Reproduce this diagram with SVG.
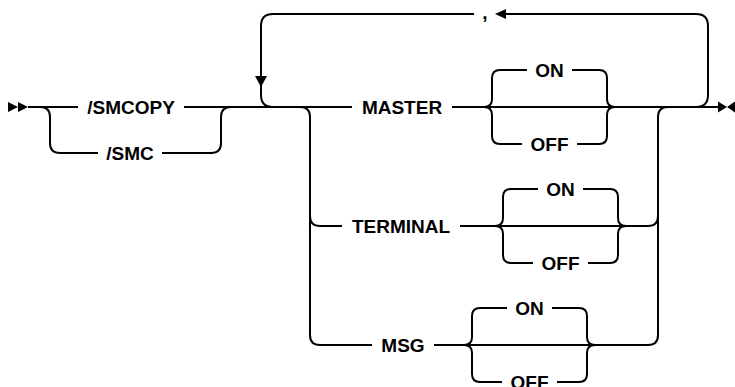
<svg xmlns="http://www.w3.org/2000/svg" width="735" height="387" viewBox="0 0 735 387">
<style>
.c{fill:none;stroke:#000;stroke-width:2}
.a{fill:#000;stroke:none}
text{font-family:"Liberation Sans",Arial,sans-serif;font-weight:bold;font-size:19px;fill:#000;text-anchor:middle}
</style>
<rect width="735" height="387" fill="#fff"/>
<g id="connectors">
<path class="c" d="M28 107H78M184 107H352M452 107H718"/>
<path class="c" d="M40 107Q50 107 50 117V143Q50 153 60 153H98M162 153H211Q221 153 221 143V117Q221 107 231 107"/>
<path class="c" d="M273 107Q261 107 261 95V26Q261 14 273 14H474M506 14H696Q708 14 708 26V95Q708 107 696 107"/>
<path class="c" d="M300 107Q310 107 310 117V335Q310 345 320 345H372M434 345H648Q658 345 658 335V117Q658 107 668 107"/>
<path class="c" d="M310 216Q310 226 320 226H342M460 226H648Q658 226 658 216"/>
<path class="c" d="M484 107Q492 107 492 99V78Q492 70 500 70H527M572 70H599Q607 70 607 78V99Q607 107 615 107M484 107Q492 107 492 115V136Q492 144 500 144H522M577 144H599Q607 144 607 136V115Q607 107 615 107"/>
<path class="c" d="M495 226Q503 226 503 218V197Q503 189 511 189H538M583 189H610Q618 189 618 197V218Q618 226 626 226M495 226Q503 226 503 234V255Q503 263 511 263H533M588 263H610Q618 263 618 255V234Q618 226 626 226"/>
<path class="c" d="M464 345Q472 345 472 337V316Q472 308 480 308H507M552 308H579Q587 308 587 316V337Q587 345 595 345M464 345Q472 345 472 353V374Q472 382 480 382H502M557 382H579Q587 382 587 374V353Q587 345 595 345"/>
<polygon class="a" points="255,76 267,76 261,87"/>
<polygon class="a" points="495,14 506,9 506,19"/>
</g>
<g id="start"><polygon class="a" points="8,102 18,107 8,112"/><polygon class="a" points="18,102 28,107 18,112"/></g>
<g id="end"><polygon class="a" points="718,101.5 727,107 718,112.5"/><polygon class="a" points="735,101.5 727,107 735,112.5"/></g>
<g id="smcopy"><text x="131" y="113.5">/SMCOPY</text></g>
<g id="smc"><text x="130" y="159.5">/SMC</text></g>
<g id="repsep"><text x="485" y="19">,</text></g>
<g id="master"><text x="402" y="113.5">MASTER</text></g>
<g id="master-on"><text x="549.5" y="76.5">ON</text></g>
<g id="master-off"><text x="549.5" y="150.5">OFF</text></g>
<g id="terminal"><text x="401" y="232.5">TERMINAL</text></g>
<g id="terminal-on"><text x="560.5" y="195.5">ON</text></g>
<g id="terminal-off"><text x="560.5" y="269.5">OFF</text></g>
<g id="msg"><text x="403" y="351.5">MSG</text></g>
<g id="msg-on"><text x="529.5" y="314.5">ON</text></g>
<g id="msg-off"><text x="529.5" y="388.5">OFF</text></g>
</svg>
